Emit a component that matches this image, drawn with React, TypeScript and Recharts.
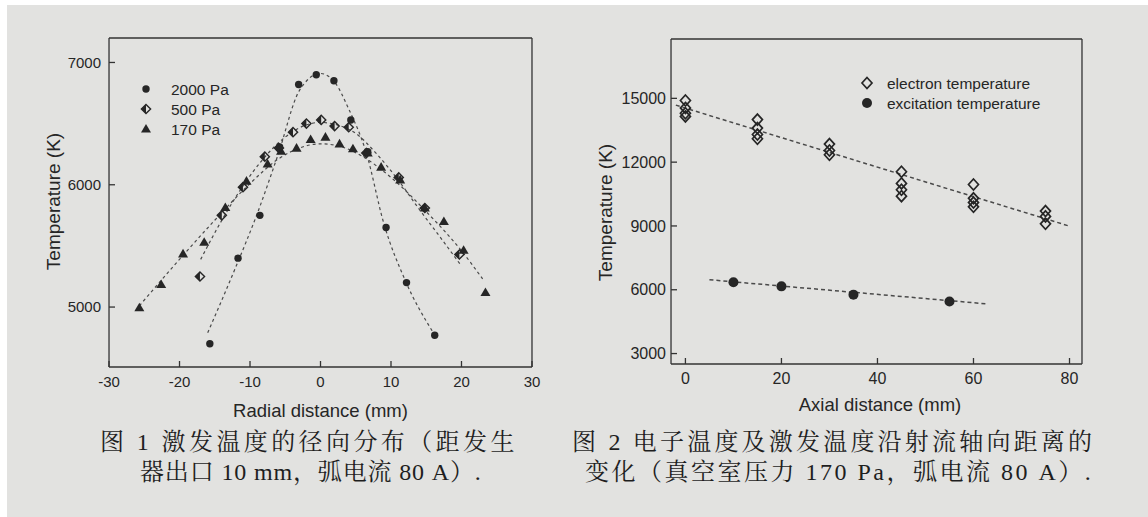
import { ComposedChart, Scatter, Line, XAxis, YAxis } from "recharts"

const INK = "#262626"
const FIT = "#4a4a4a"
const PAPER = "#e2e2e0"
const SANS = '"Liberation Sans", Arial, sans-serif'
const THIN = 0.01 // axes need a non-zero band to be drawn

// Fig. 1: radial distribution of excitation temperature
const radialTicks = [-30, -20, -10, 0, 10, 20, 30]
const radialMinor = [-25, -15, -5, 5, 15, 25]
const radialTempTicks = [5000, 6000, 7000]
const radialTempMinor = [5500, 6500]

const p2000X = [-15.7, -11.7, -8.6, -5.8, -3.1, -0.6, 1.9, 4.3, 6.7, 9.3, 12.2, 16.2]
const p2000T = [4700, 5400, 5750, 6310, 6820, 6900, 6850, 6530, 6270, 5650, 5200, 4770]
const p500X = [-17.1, -14.0, -11.0, -7.9, -5.9, -3.9, -2.0, 0.1, 2.0, 4.0, 6.5, 11.1, 14.8, 19.7]
const p500T = [5250, 5750, 5980, 6230, 6300, 6430, 6500, 6530, 6480, 6470, 6260, 6060, 5810, 5430]
const p170X = [-25.7, -22.6, -19.5, -16.5, -13.5, -10.5, -7.5, -5.6, -3.4, -1.4, 0.7, 2.7, 4.6, 6.7, 8.6, 11.3, 14.8, 17.5, 20.3, 23.4]
const p170T = [4995, 5185, 5435, 5530, 5815, 6030, 6170, 6275, 6300, 6370, 6390, 6335, 6295, 6260, 6145, 6040, 5810, 5700, 5465, 5120]

// fitted curves
const fit2000X = [-16, -12, -9, -6, -3, 0, 2, 4, 6.5, 9, 12, 16]
const fit2000T = [4790, 5330, 5760, 6250, 6770, 6910, 6840, 6620, 6260, 5680, 5220, 4790]
const fit500X = [-17, -14, -11, -8, -5, -2, 0, 2, 5, 8, 11, 14, 17, 20]
const fit500T = [5390, 5710, 5990, 6220, 6390, 6490, 6510, 6495, 6420, 6250, 6040, 5800, 5570, 5335]
const fit170X = [-25.7, -20, -15, -10, -6, -3, 0, 3, 6, 10, 15, 20, 23]
const fit170T = [5010, 5390, 5710, 6010, 6210, 6300, 6335, 6310, 6230, 6060, 5780, 5460, 5230]

// Fig. 2: temperatures along the jet axis
const axialTicks = [0, 20, 40, 60, 80]
const axialMinor = [10, 30, 50, 70]
const axialTempTicks = [3000, 6000, 9000, 12000, 15000]
const axialTempMinor = [4500, 7500, 10500, 13500, 16500]

const electronX = [0, 0, 0, 0, 15, 15, 15, 15, 30, 30, 30, 45, 45, 45, 45, 60, 60, 60, 60, 75, 75, 75]
const electronT = [14900, 14550, 14300, 14150, 14000, 13600, 13300, 13100, 12850, 12550, 12350, 11550, 11000, 10700, 10400, 10950, 10300, 10100, 9900, 9700, 9450, 9100]
const excitationX = [10, 20, 35, 55]
const excitationT = [6350, 6160, 5770, 5450]
const electronFitX = [-2, 80]
const electronFitT = [14680, 8990]
const excitationFitX = [5, 63]
const excitationFitT = [6470, 5330]

const pts = (xs: number[], ys: number[]) => xs.map((x, i) => ({ x, y: ys[i] }))

function Dot(props: any) {
  const { cx, cy, r = 3.7 } = props
  return <circle cx={cx} cy={cy} r={r} fill={INK} />
}
function BigDot(props: any) {
  return <Dot {...props} r={5} />
}
function HalfDiamond(props: any) {
  const { cx, cy } = props
  const s = 4.6
  return (
    <g>
      <path d={`M${cx},${cy - s} L${cx - s},${cy} L${cx},${cy + s} Z`} fill={INK} />
      <path d={`M${cx},${cy - s} L${cx + s},${cy} L${cx},${cy + s} L${cx - s},${cy} Z`} fill="none" stroke={INK} strokeWidth={1.4} />
    </g>
  )
}
function Triangle(props: any) {
  const { cx, cy } = props
  return <path d={`M${cx},${cy - 5} L${cx + 5},${cy + 3.6} L${cx - 5},${cy + 3.6} Z`} fill={INK} />
}
function OpenDiamond(props: any) {
  const { cx, cy } = props
  return <path d={`M${cx},${cy - 5.5} L${cx + 5},${cy} L${cx},${cy + 5.5} L${cx - 5},${cy} Z`} fill="none" stroke={INK} strokeWidth={1.7} />
}

function YTitle({ viewBox, dx, dy, size }: any) {
  const x = viewBox.x + dx
  const y = viewBox.y + viewBox.height / 2 + dy
  return (
    <text x={x} y={y} transform={`rotate(-90 ${x} ${y})`} textAnchor="middle" dominantBaseline="central"
      fill={INK} fontSize={size} fontFamily={SANS}>Temperature (K)</text>
  )
}
function XTitle({ viewBox, dx, dy, size, text }: any) {
  const x = viewBox.x + viewBox.width / 2 + dx
  const y = viewBox.y + dy
  return (
    <text x={x} y={y} textAnchor="middle" dominantBaseline="central" fill={INK} fontSize={size} fontFamily={SANS}>{text}</text>
  )
}

function LegendRow({ x, y, shape, label }: any) {
  return (
    <g>
      {shape}
      <text x={x} y={y} dominantBaseline="central" fontSize={15.5} fill={INK} fontFamily={SANS}>{label}</text>
    </g>
  )
}

const axisStroke = { stroke: "#333", strokeWidth: 1.3 }

function RadialChart() {
  return (
    <ComposedChart width={560} height={430} margin={{ top: 38, right: 28, bottom: 63, left: 109 }}>
      <XAxis type="number" dataKey="x" domain={[-30, 30]} allowDataOverflow ticks={radialTicks} interval={0}
        height={THIN} tickSize={-6} tickMargin={15} axisLine={axisStroke} tickLine={axisStroke}
        tick={{ fill: INK, fontSize: 15, fontFamily: SANS }}
        label={<XTitle dx={0} dy={44} size={18.5} text="Radial distance (mm)" />} />
      <XAxis xAxisId="minor" type="number" domain={[-30, 30]} allowDataOverflow ticks={radialMinor} interval={0}
        height={THIN} tickSize={-3} tick={false} axisLine={false} tickLine={axisStroke} />
      <XAxis xAxisId="top" orientation="top" type="number" domain={[-30, 30]} allowDataOverflow ticks={[]}
        height={THIN} tick={false} tickLine={false} axisLine={axisStroke} />
      <YAxis type="number" dataKey="y" domain={[4510, 7200]} allowDataOverflow ticks={radialTempTicks} interval={0}
        width={THIN} tickSize={-6} tickMargin={14} axisLine={axisStroke} tickLine={axisStroke}
        tick={{ fill: INK, fontSize: 15, fontFamily: SANS }}
        label={<YTitle dx={-55} dy={-1} size={19} />} />
      <YAxis yAxisId="minor" type="number" domain={[4510, 7200]} allowDataOverflow ticks={radialTempMinor} interval={0}
        width={THIN} tickSize={-3} tick={false} axisLine={false} tickLine={axisStroke} />
      <YAxis yAxisId="right" orientation="right" type="number" domain={[4510, 7200]} allowDataOverflow ticks={[]}
        width={THIN} tick={false} tickLine={false} axisLine={axisStroke} />

      <Line data={pts(fit2000X, fit2000T)} dataKey="y" type="monotoneX" stroke={FIT} strokeWidth={1.2}
        strokeDasharray="3 3" dot={false} activeDot={false} isAnimationActive={false} />
      <Line data={pts(fit500X, fit500T)} dataKey="y" type="monotoneX" stroke={FIT} strokeWidth={1.2}
        strokeDasharray="3 3" dot={false} activeDot={false} isAnimationActive={false} />
      <Line data={pts(fit170X, fit170T)} dataKey="y" type="monotoneX" stroke={FIT} strokeWidth={1.2}
        strokeDasharray="3 3" dot={false} activeDot={false} isAnimationActive={false} />

      <Scatter data={pts(p170X, p170T)} shape={<Triangle />} isAnimationActive={false} />
      <Scatter data={pts(p500X, p500T)} shape={<HalfDiamond />} isAnimationActive={false} />
      <Scatter data={pts(p2000X, p2000T)} shape={<Dot />} isAnimationActive={false} />

      <LegendRow x={171} y={89} shape={<Dot cx={146} cy={89} />} label="2000 Pa" />
      <LegendRow x={171} y={109} shape={<HalfDiamond cx={146} cy={109} />} label="500 Pa" />
      <LegendRow x={171} y={129} shape={<Triangle cx={146} cy={129} />} label="170 Pa" />
    </ComposedChart>
  )
}

function AxialChart() {
  return (
    <ComposedChart width={588} height={430} margin={{ top: 39, right: 66, bottom: 66, left: 111 }}>
      <XAxis type="number" dataKey="x" domain={[-3, 82.6]} allowDataOverflow ticks={axialTicks} interval={0}
        height={THIN} tickSize={-6} tickMargin={15} axisLine={axisStroke} tickLine={axisStroke}
        tick={{ fill: INK, fontSize: 16, fontFamily: SANS }}
        label={<XTitle dx={3.5} dy={41} size={18.5} text="Axial distance (mm)" />} />
      <XAxis xAxisId="minor" type="number" domain={[-3, 82.6]} allowDataOverflow ticks={axialMinor} interval={0}
        height={THIN} tickSize={-3} tick={false} axisLine={false} tickLine={axisStroke} />
      <XAxis xAxisId="top" orientation="top" type="number" domain={[-3, 82.6]} allowDataOverflow ticks={[]}
        height={THIN} tick={false} tickLine={false} axisLine={axisStroke} />
      <YAxis type="number" dataKey="y" domain={[2510, 17790]} allowDataOverflow ticks={axialTempTicks} interval={0}
        width={THIN} tickSize={-6} tickMargin={11} axisLine={axisStroke} tickLine={axisStroke}
        tick={{ fill: INK, fontSize: 16, fontFamily: SANS }}
        label={<YTitle dx={-65} dy={11} size={19} />} />
      <YAxis yAxisId="minor" type="number" domain={[2510, 17790]} allowDataOverflow ticks={axialTempMinor} interval={0}
        width={THIN} tickSize={-3} tick={false} axisLine={false} tickLine={axisStroke} />
      <YAxis yAxisId="right" orientation="right" type="number" domain={[2510, 17790]} allowDataOverflow ticks={[]}
        width={THIN} tick={false} tickLine={false} axisLine={axisStroke} />

      <Line data={pts(electronFitX, electronFitT)} dataKey="y" type="linear" stroke={FIT} strokeWidth={1.5}
        strokeDasharray="4 3" dot={false} activeDot={false} isAnimationActive={false} />
      <Line data={pts(excitationFitX, excitationFitT)} dataKey="y" type="linear" stroke={FIT} strokeWidth={1.5}
        strokeDasharray="4 3" dot={false} activeDot={false} isAnimationActive={false} />

      <Scatter data={pts(electronX, electronT)} shape={<OpenDiamond />} isAnimationActive={false} />
      <Scatter data={pts(excitationX, excitationT)} shape={<BigDot />} isAnimationActive={false} />

      <LegendRow x={327} y={83} shape={<OpenDiamond cx={307} cy={83} />} label="electron temperature" />
      <LegendRow x={327} y={103} shape={<BigDot cx={307} cy={103} />} label="excitation temperature" />
    </ComposedChart>
  )
}

const captionStyle: any = {
  position: "absolute",
  whiteSpace: "nowrap",
  fontSize: 24,
  lineHeight: "28px",
  color: "#1e1e1e",
  fontFamily: '"Liberation Serif", "Noto Serif CJK SC", "Noto Sans CJK SC", serif',
}

export default function App() {
  return (
    <div style={{ position: "absolute", left: 0, top: 0, width: 1148, height: 517, background: "#fff", overflow: "hidden" }}>
      <div style={{ position: "absolute", left: 7, top: 5, width: 1141, height: 512, background: PAPER }} />
      <div style={{ position: "absolute", left: 0, top: 0 }}>
        <RadialChart />
      </div>
      <div style={{ position: "absolute", left: 560, top: 0 }}>
        <AxialChart />
      </div>
      <div style={{ ...captionStyle, left: 100, top: 428, letterSpacing: 3.4 }}>图 1 激发温度的径向分布（距发生</div>
      <div style={{ ...captionStyle, left: 140, top: 458, letterSpacing: 0.85 }}>器出口 10 mm，弧电流 80 A）.</div>
      <div style={{ ...captionStyle, left: 572, top: 428, letterSpacing: 3.2 }}>图 2 电子温度及激发温度沿射流轴向距离的</div>
      <div style={{ ...captionStyle, left: 585, top: 458, letterSpacing: 2.5 }}>变化（真空室压力 170 Pa，弧电流 80 A）.</div>
    </div>
  )
}
